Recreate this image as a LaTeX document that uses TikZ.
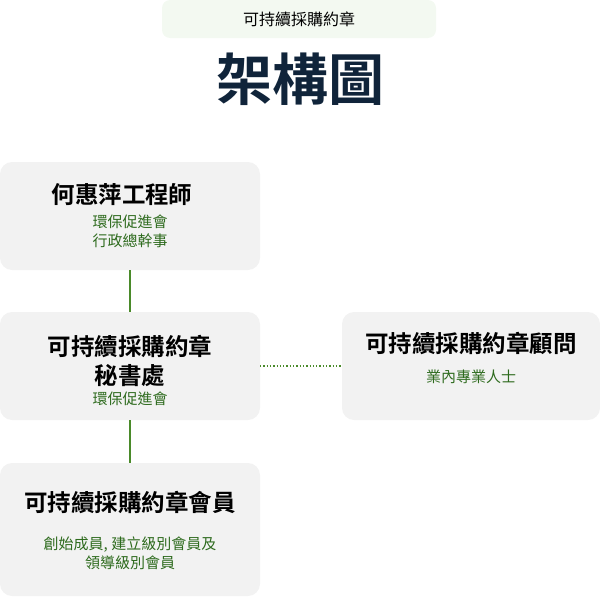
\documentclass[tikz,border=0pt]{standalone}
\usepackage{fontspec}
\newfontfamily\cjk{Noto Sans CJK TC}
\newfontfamily\cjkb{Noto Sans CJK TC Bold}
\definecolor{boxgray}{HTML}{F2F2F2}
\definecolor{pill}{HTML}{F3F9F1}
\definecolor{subgreen}{HTML}{2E6B1E}
\definecolor{linegreen}{HTML}{4A8A2A}
\definecolor{navy}{HTML}{10243A}
\begin{document}
\begin{tikzpicture}[x=1pt,y=-1pt,
  card/.style={fill=boxgray,rounded corners=12pt},
  head/.style={font=\cjkb\fontsize{23.5}{29}\selectfont,align=center,text=black},
  sub/.style={font=\cjk\fontsize{15}{19}\selectfont,align=center,text=subgreen},
  conn/.style={draw=linegreen,line width=1.3pt}]
\useasboundingbox (0,0) rectangle (600,597);
\fill[pill,rounded corners=8pt] (162,0) rectangle (436,38);
\node[font=\cjk\fontsize{16}{18}\selectfont] (pt) at (299,19) {可持續採購約章};
\node[font=\cjkb\fontsize{56}{62}\selectfont,text=navy] (title) at (300,79) {架構圖};
\fill[card] (0,162) rectangle (260,270);
\coordinate (b1t) at (130,270);
\fill[card] (0,312) rectangle (260,420);
\coordinate (b2t) at (130,312); \coordinate (b2b) at (130,420); \coordinate (b2r) at (260,366);
\fill[card] (342,312) rectangle (600,420);
\coordinate (b3l) at (342,366);
\fill[card] (0,463) rectangle (260,596);
\coordinate (b4t) at (130,463);
\node[head] (h1) at (122,195) {何惠萍工程師};
\node[sub] (s1) at (130,231) {環保促進會\\行政總幹事};
\node[head] (h2) at (130,361) {可持續採購約章\\秘書處};
\node[sub] (s2) at (130,399) {環保促進會};
\node[head] (h3) at (471,343) {可持續採購約章顧問};
\node[sub] (s3) at (471,377) {業內專業人士};
\node[head] (h4) at (130,502) {可持續採購約章會員};
\node[sub] (s4) at (130,553) {創始成員, 建立級別會員及\\領導級別會員};
\draw[conn] (b1t) -- (b2t);
\draw[conn] (b2b) -- (b4t);
\draw[conn,dotted,line width=1.8pt] (b2r) -- (b3l);
\end{tikzpicture}
\end{document}
